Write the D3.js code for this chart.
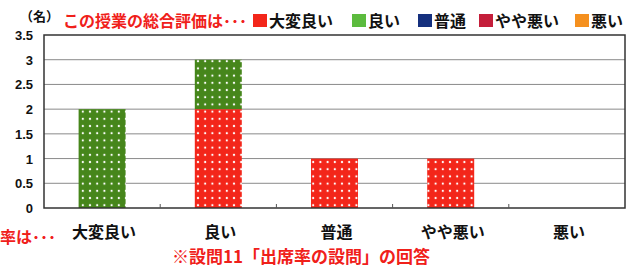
<!DOCTYPE html>
<html>
<head>
<meta charset="utf-8">
<script src="https://cdn.jsdelivr.net/npm/d3@7"></script>
<style>
  body { margin: 0; background: #fff; }
  svg text { font-family: "Noto Sans CJK JP", sans-serif; font-weight: bold; }
  svg text.num { font-family: "Liberation Sans", Arial, sans-serif; }
</style>
</head>
<body>
<div id="chart"></div>
<script>
// --------------- Data ---------------
const categories = ["大変良い", "良い", "普通", "やや悪い", "悪い"];
const seriesNames = ["大変良い", "良い", "普通", "やや悪い", "悪い"];
const vTaihen = [0, 2, 1, 1, 0];
const vYoi = [2, 1, 0, 0, 0];
const vFutsu = [0, 0, 0, 0, 0];
const vYaya = [0, 0, 0, 0, 0];
const vWarui = [0, 0, 0, 0, 0];
const yTicks = [0, 0.5, 1, 1.5, 2, 2.5, 3, 3.5];

// --------------- Constants ---------------
const WIDTH = 632;
const HEIGHT = 268;
const PLOT = { left: 44, right: 625, top: 35, bottom: 208 };
const LEGEND_COLORS = ["#f3261a", "#5cbb3e", "#15307e", "#c41e3a", "#f5901e"];
const BAR_COLORS = ["#f3261a", "#46861b", "#15307e", "#c41e3a", "#f5901e"];
const RED_TEXT = "#f0201a";

const svg = d3.select("#chart").append("svg")
  .attr("width", WIDTH)
  .attr("height", HEIGHT);

// dotted fill patterns for bars
const defs = svg.append("defs");
BAR_COLORS.forEach((c, i) => {
  const p = defs.append("pattern")
    .attr("id", "dots" + i)
    .attr("patternUnits", "userSpaceOnUse")
    .attr("width", 7.2)
    .attr("height", 7.2)
    .attr("x", 0).attr("y", 0);
  p.append("rect").attr("width", 7.2).attr("height", 7.2).attr("fill", c);
  p.append("circle").attr("cx", 3.6).attr("cy", 3.6).attr("r", 1.1).attr("fill", "#fff");
});

const x = d3.scaleBand()
  .domain(categories)
  .range([PLOT.left, PLOT.right])
  .paddingInner(0)
  .paddingOuter(0);

const y = d3.scaleLinear()
  .domain([0, 3.5])
  .range([PLOT.bottom, PLOT.top]);

// gridlines
svg.append("g")
  .selectAll("line")
  .data(yTicks.filter(t => t > 0 && t < 3.5))
  .enter()
  .append("line")
  .attr("x1", PLOT.left).attr("x2", PLOT.right)
  .attr("y1", d => y(d)).attr("y2", d => y(d))
  .attr("stroke", "#8a8a8a")
  .attr("stroke-width", 1);

// stacked bars
const table = categories.map((c, i) => ({
  cat: c,
  "大変良い": vTaihen[i],
  "良い": vYoi[i],
  "普通": vFutsu[i],
  "やや悪い": vYaya[i],
  "悪い": vWarui[i]
}));
const stacked = d3.stack().keys(seriesNames)(table);
const barW = 47;

svg.append("g")
  .selectAll("g")
  .data(stacked)
  .enter()
  .append("g")
  .attr("fill", (_d, i) => `url(#dots${i})`)
  .selectAll("rect")
  .data(d => d.filter(s => s[1] - s[0] > 0))
  .enter()
  .append("rect")
  .attr("x", d => x(d.data.cat) + x.bandwidth() / 2 - barW / 2)
  .attr("width", barW)
  .attr("y", d => y(d[1]))
  .attr("height", d => y(d[0]) - y(d[1]));

// plot border
svg.append("rect")
  .attr("x", PLOT.left).attr("y", PLOT.top)
  .attr("width", PLOT.right - PLOT.left)
  .attr("height", PLOT.bottom - PLOT.top)
  .attr("fill", "none")
  .attr("stroke", "#333")
  .attr("stroke-width", 1.5);

// x ticks between categories
svg.append("g")
  .selectAll("line")
  .data(categories.slice(1))
  .enter()
  .append("line")
  .attr("x1", d => x(d)).attr("x2", d => x(d))
  .attr("y1", PLOT.bottom).attr("y2", PLOT.bottom - 4)
  .attr("stroke", "#555");

// y axis labels
svg.append("g")
  .selectAll("text")
  .data(yTicks)
  .enter()
  .append("text")
  .attr("class", "num")
  .attr("x", 33)
  .attr("y", d => y(d) + 5)
  .attr("text-anchor", "end")
  .attr("font-size", 13)
  .attr("fill", "#111")
  .text(d => d);

// x axis labels
svg.append("g")
  .selectAll("text")
  .data(categories)
  .enter()
  .append("text")
  .attr("x", d => x(d) + x.bandwidth() / 2 + 2)
  .attr("y", 238)
  .attr("text-anchor", "middle")
  .attr("font-size", 16)
  .attr("fill", "#111")
  .text(d => d);

// unit + title
svg.append("text")
  .attr("x", 20).attr("y", 21)
  .attr("font-size", 13)
  .attr("fill", "#111")
  .text("（名）");

svg.append("text")
  .attr("x", 63).attr("y", 27)
  .attr("font-size", 16)
  .attr("fill", RED_TEXT)
  .text("この授業の総合評価は･･･");

// legend
const legendX = [253, 352, 418, 479, 575];
const legend = svg.append("g")
  .selectAll("g")
  .data(seriesNames)
  .enter()
  .append("g")
  .attr("transform", (_d, i) => `translate(${legendX[i]},0)`);

legend.append("rect")
  .attr("x", 0).attr("y", 14)
  .attr("width", 14).attr("height", 13)
  .attr("fill", (_d, i) => LEGEND_COLORS[i]);

legend.append("text")
  .attr("x", 16).attr("y", 27)
  .attr("font-size", 16)
  .attr("fill", "#111")
  .text(d => d);

// bottom notes
svg.append("text")
  .attr("x", 0).attr("y", 243)
  .attr("font-size", 16)
  .attr("fill", RED_TEXT)
  .text("率は･･･");

svg.append("text")
  .attr("x", 172).attr("y", 263)
  .attr("font-size", 17)
  .attr("fill", RED_TEXT)
  .text("※設問11「出席率の設問」の回答");
</script>
</body>
</html>
